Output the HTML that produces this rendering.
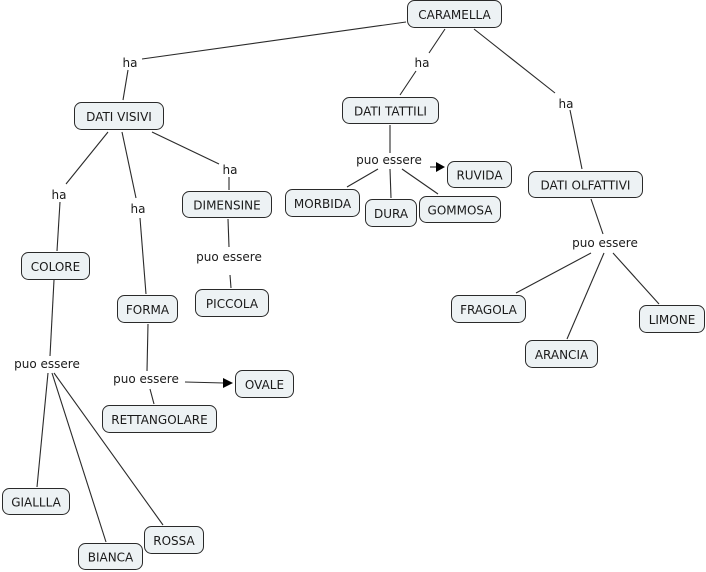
<!DOCTYPE html>
<html><head><meta charset="utf-8"><style>
html,body{margin:0;padding:0;background:#fff;}
svg{display:block;}
text{font-family:"DejaVu Sans","Liberation Sans",sans-serif;font-size:12px;fill:#1a1a1a;}
.b{fill:#edf2f4;stroke:#2a2a2a;stroke-width:1;}
.l{stroke:#2a2a2a;stroke-width:1.1;fill:none;}
</style></head><body>
<svg width="706" height="572" viewBox="0 0 706 572" xmlns="http://www.w3.org/2000/svg">
<!-- connectors -->
<g class="l">
<line x1="406" y1="22" x2="142" y2="59"/>
<line x1="128" y1="70" x2="123" y2="100"/>
<line x1="445" y1="29" x2="429" y2="53"/>
<line x1="416" y1="71" x2="400" y2="95"/>
<line x1="474" y1="29" x2="555" y2="93"/>
<line x1="570" y1="110" x2="582" y2="169"/>
<line x1="108" y1="132" x2="66" y2="184"/>
<line x1="60" y1="202" x2="57" y2="251"/>
<line x1="122" y1="132" x2="136" y2="198"/>
<line x1="140" y1="218" x2="146" y2="294"/>
<line x1="152" y1="132" x2="219" y2="164"/>
<line x1="229" y1="177" x2="229" y2="190"/>
<line x1="228" y1="219" x2="229" y2="247"/>
<line x1="230" y1="275" x2="231" y2="288"/>
<line x1="390" y1="125" x2="390" y2="153"/>
<line x1="378" y1="169" x2="347" y2="187"/>
<line x1="390" y1="169" x2="391" y2="198"/>
<line x1="402" y1="169" x2="438" y2="194"/>
<line x1="430" y1="167" x2="437" y2="167"/>
<line x1="591" y1="199" x2="603" y2="234"/>
<line x1="591" y1="253" x2="516" y2="293"/>
<line x1="604" y1="253" x2="567" y2="339"/>
<line x1="613" y1="253" x2="659" y2="304"/>
<line x1="54" y1="280" x2="50" y2="356"/>
<line x1="48" y1="373" x2="37" y2="487"/>
<line x1="52" y1="373" x2="106" y2="542"/>
<line x1="54" y1="373" x2="163" y2="525"/>
<line x1="148" y1="324" x2="147" y2="371"/>
<line x1="150" y1="389" x2="154" y2="404"/>
<line x1="185" y1="382" x2="224" y2="383"/>
</g>
<polygon points="436,162 445,167 436,172" fill="#000"/>
<polygon points="223,378 233,383 223,388" fill="#000"/>
<!-- nodes -->
<rect class="b" x="407.5" y="0.5" width="94" height="27" rx="7"/>
<text x="454.5" y="19" text-anchor="middle">CARAMELLA</text>
<rect class="b" x="74.5" y="102.5" width="89" height="27" rx="7"/>
<text x="119" y="121" text-anchor="middle">DATI VISIVI</text>
<rect class="b" x="342.5" y="97.5" width="96" height="26" rx="7"/>
<text x="390.5" y="115.5" text-anchor="middle">DATI TATTILI</text>
<rect class="b" x="528.5" y="171.5" width="114" height="26" rx="7"/>
<text x="585.5" y="189.5" text-anchor="middle">DATI OLFATTIVI</text>
<rect class="b" x="21.5" y="252.5" width="68" height="27" rx="7"/>
<text x="55.5" y="271" text-anchor="middle">COLORE</text>
<rect class="b" x="117.5" y="295.5" width="60" height="27" rx="7"/>
<text x="147.5" y="314" text-anchor="middle">FORMA</text>
<rect class="b" x="182.5" y="191.5" width="89" height="26" rx="7"/>
<text x="227" y="209.5" text-anchor="middle">DIMENSINE</text>
<rect class="b" x="195.5" y="289.5" width="73" height="27" rx="7"/>
<text x="232" y="308" text-anchor="middle">PICCOLA</text>
<rect class="b" x="235.5" y="370.5" width="58" height="27" rx="7"/>
<text x="264.5" y="389" text-anchor="middle">OVALE</text>
<rect class="b" x="102.5" y="405.5" width="114" height="27" rx="7"/>
<text x="159.5" y="424" text-anchor="middle">RETTANGOLARE</text>
<rect class="b" x="2.5" y="488.5" width="67" height="26" rx="7"/>
<text x="36" y="506.5" text-anchor="middle">GIALLLA</text>
<rect class="b" x="78.5" y="543.5" width="64" height="26" rx="7"/>
<text x="110.5" y="561.5" text-anchor="middle">BIANCA</text>
<rect class="b" x="144.5" y="526.5" width="59" height="27" rx="7"/>
<text x="174" y="545" text-anchor="middle">ROSSA</text>
<rect class="b" x="285.5" y="189.5" width="74" height="27" rx="7"/>
<text x="322.5" y="208" text-anchor="middle">MORBIDA</text>
<rect class="b" x="447.5" y="161.5" width="64" height="26" rx="7"/>
<text x="479.5" y="179.5" text-anchor="middle">RUVIDA</text>
<rect class="b" x="365.5" y="199.5" width="51" height="27" rx="7"/>
<text x="391" y="218" text-anchor="middle">DURA</text>
<rect class="b" x="419.5" y="196.5" width="81" height="26" rx="7"/>
<text x="460" y="214.5" text-anchor="middle">GOMMOSA</text>
<rect class="b" x="451.5" y="295.5" width="74" height="27" rx="7"/>
<text x="488.5" y="314" text-anchor="middle">FRAGOLA</text>
<rect class="b" x="639.5" y="305.5" width="65" height="27" rx="7"/>
<text x="672" y="324" text-anchor="middle">LIMONE</text>
<rect class="b" x="525.5" y="340.5" width="72" height="27" rx="7"/>
<text x="561.5" y="359" text-anchor="middle">ARANCIA</text>
<!-- linking phrases -->
<text x="130" y="67" text-anchor="middle">ha</text>
<text x="422" y="67" text-anchor="middle">ha</text>
<text x="566" y="108" text-anchor="middle">ha</text>
<text x="59" y="199" text-anchor="middle">ha</text>
<text x="138" y="213" text-anchor="middle">ha</text>
<text x="230" y="174" text-anchor="middle">ha</text>
<text x="229" y="261" text-anchor="middle">puo essere</text>
<text x="389" y="164" text-anchor="middle">puo essere</text>
<text x="605" y="247" text-anchor="middle">puo essere</text>
<text x="47" y="368" text-anchor="middle">puo essere</text>
<text x="146" y="383" text-anchor="middle">puo essere</text>
</svg>
</body></html>
